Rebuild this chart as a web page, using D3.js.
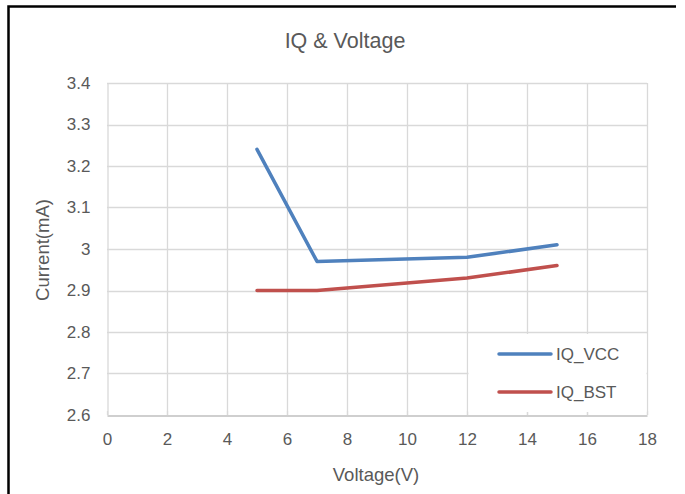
<!DOCTYPE html>
<html>
<head>
<meta charset="utf-8">
<script src="https://cdn.jsdelivr.net/npm/d3@7"></script>
<style>
  html, body { margin: 0; padding: 0; background: #fff; }
  svg { display: block; }
  text { font-family: "Liberation Sans", Arial, sans-serif; fill: #595959; }
</style>
</head>
<body>
<script>
// Supply voltage (V) and quiescent current readings (mA)
const voltages = [5, 7, 12, 15];
const iqVcc = [3.24, 2.97, 2.98, 3.01];
const iqBst = [2.90, 2.90, 2.93, 2.96];
const seriesNames = ["IQ_VCC", "IQ_BST"];
const seriesColors = ["#4f81bd", "#c0504d"];
const xTicks = [0, 2, 4, 6, 8, 10, 12, 14, 16, 18];
const yTicks = [2.6, 2.7, 2.8, 2.9, 3.0, 3.1, 3.2, 3.3, 3.4];

const W = 685, H = 494;
const svg = d3.select("body").append("svg").attr("width", W).attr("height", H);

// outer frame (top and left edges)
svg.append("path")
  .attr("d", "M8.5,494 L8.5,6.5 L676,6.5")
  .attr("fill", "none").attr("stroke", "#000").attr("stroke-width", 2.5);

const plot = { left: 107, right: 647, top: 83, bottom: 415 };
const x = d3.scaleLinear().domain([0, 18]).range([plot.left, plot.right]);
const y = d3.scaleLinear().domain([2.6, 3.4]).range([plot.bottom, plot.top]);

// gridlines
const grid = svg.append("g");
grid.selectAll("line.v").data(xTicks.slice(1)).join("line")
  .attr("x1", d => Math.round(x(d)) + 0.5).attr("x2", d => Math.round(x(d)) + 0.5)
  .attr("y1", plot.top).attr("y2", plot.bottom)
  .attr("stroke", "#d9d9d9").attr("stroke-width", 1.3);
grid.selectAll("line.h").data(yTicks.slice(1)).join("line")
  .attr("x1", plot.left).attr("x2", plot.right)
  .attr("y1", d => Math.round(y(d)) + 0.5).attr("y2", d => Math.round(y(d)) + 0.5)
  .attr("stroke", "#d9d9d9").attr("stroke-width", 1.3);

// axes
const xAxis = svg.append("g")
  .attr("transform", `translate(0,${Math.round(plot.bottom) + 0.5})`)
  .call(d3.axisBottom(x).tickValues(xTicks).tickSize(0).tickPadding(17).tickFormat(d3.format("d")));
xAxis.select(".domain").attr("stroke", "#bfbfbf").attr("stroke-width", 1.3);
xAxis.selectAll("text").attr("font-size", 17).attr("fill", "#595959");

const yAxis = svg.append("g")
  .attr("transform", `translate(${plot.left + 0.5},0)`)
  .call(d3.axisLeft(y).tickValues(yTicks).tickSize(0).tickPadding(17)
    .tickFormat(d => d === 3 ? "3" : d3.format(".1f")(d)));
yAxis.select(".domain").attr("stroke", "#d9d9d9").attr("stroke-width", 1.3);
yAxis.selectAll("text").attr("font-size", 17).attr("fill", "#595959");

// small tick marks along the bottom axis
svg.append("g").selectAll("line").data(xTicks).join("line")
  .attr("x1", d => Math.round(x(d)) + 0.5).attr("x2", d => Math.round(x(d)) + 0.5)
  .attr("y1", plot.bottom - 4).attr("y2", plot.bottom)
  .attr("stroke", "#d9d9d9").attr("stroke-width", 1.3);

// series lines
const line = d3.line().x(d => x(d[0])).y(d => y(d[1]));
[iqVcc, iqBst].forEach((vals, i) => {
  svg.append("path")
    .datum(voltages.map((v, j) => [v, vals[j]]))
    .attr("d", line)
    .attr("fill", "none")
    .attr("stroke", seriesColors[i])
    .attr("stroke-width", 3.5)
    .attr("stroke-linejoin", "round")
    .attr("stroke-linecap", "round");
});

// legend
const lg = svg.append("g");
lg.append("rect").attr("x", 468.5).attr("y", 334).attr("width", 178).attr("height", 78).attr("fill", "#fff");
seriesNames.forEach((name, i) => {
  const ly = 354 + i * 38;
  lg.append("line").attr("x1", 499).attr("x2", 551).attr("y1", ly).attr("y2", ly)
    .attr("stroke", seriesColors[i]).attr("stroke-width", 3.5).attr("stroke-linecap", "round");
  lg.append("text").attr("x", 556).attr("y", ly).attr("dy", "0.35em")
    .attr("font-size", 17).text(name);
});

// titles
svg.append("text").attr("x", 345).attr("y", 48).attr("text-anchor", "middle")
  .attr("font-size", 21.5).text("IQ & Voltage");
svg.append("text").attr("x", 376).attr("y", 481).attr("text-anchor", "middle")
  .attr("font-size", 18.5).text("Voltage(V)");
svg.append("text").attr("transform", "translate(49,250) rotate(-90)")
  .attr("text-anchor", "middle").attr("font-size", 18.5).text("Current(mA)");
</script>
</body>
</html>
